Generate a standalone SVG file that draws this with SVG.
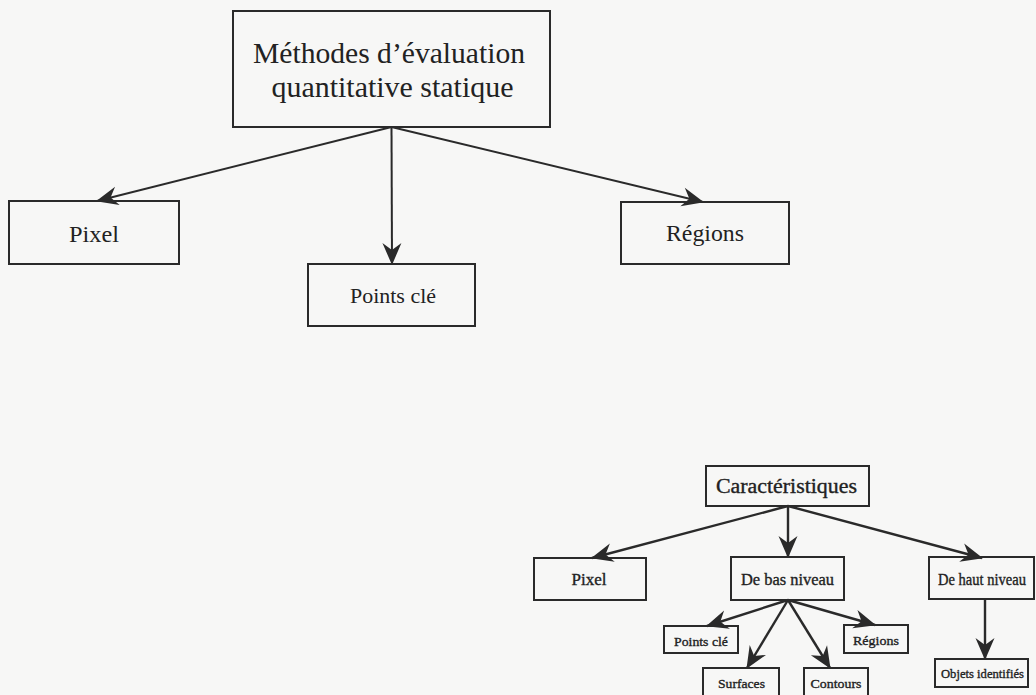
<svg xmlns="http://www.w3.org/2000/svg" width="1036" height="695" viewBox="0 0 1036 695">
<style>
.bg{fill:#f7f7f6}
.box{fill:none;stroke:#2a2a2a;stroke-width:2}
.t{font-family:"Liberation Serif","DejaVu Serif","Times New Roman",serif;fill:#222;text-anchor:middle}
.b{font-family:"Liberation Serif","DejaVu Serif","Times New Roman",serif;fill:#222;text-anchor:middle;stroke:#222;stroke-width:0.35}
.ln{fill:none;stroke:#2a2a2a;stroke-width:2}
.ln2{fill:none;stroke:#2a2a2a;stroke-width:2.4}
</style>
<defs>
<marker id="ah" markerUnits="userSpaceOnUse" markerWidth="30" markerHeight="24" refX="24" refY="12" orient="auto" overflow="visible">
<path d="M25,12 L3,2.5 L10,12 L3,21.5 Z" fill="#2a2a2a"/>
</marker>
</defs>
<rect class="bg" x="0" y="0" width="1036" height="695"/>
<g id="connectors">
<line class="ln" x1="391.5" y1="127" x2="97" y2="201" marker-end="url(#ah)"/>
<line class="ln" x1="391.5" y1="127" x2="392" y2="264" marker-end="url(#ah)"/>
<line class="ln" x1="391.5" y1="127" x2="703" y2="202" marker-end="url(#ah)"/>
<line class="ln2" x1="788" y1="506" x2="592" y2="558" marker-end="url(#ah)"/>
<line class="ln2" x1="788" y1="506" x2="788" y2="557" marker-end="url(#ah)"/>
<line class="ln2" x1="788" y1="506" x2="982" y2="558" marker-end="url(#ah)"/>
<line class="ln2" x1="788" y1="600" x2="707" y2="626" marker-end="url(#ah)"/>
<line class="ln2" x1="788" y1="600" x2="747" y2="668" marker-end="url(#ah)"/>
<line class="ln2" x1="788" y1="600" x2="830" y2="668" marker-end="url(#ah)"/>
<line class="ln2" x1="788" y1="600" x2="875" y2="625" marker-end="url(#ah)"/>
<line class="ln2" x1="985" y1="599" x2="985" y2="659" marker-end="url(#ah)"/>
</g>
<g id="n-methodes">
<rect class="box" x="233" y="11" width="317" height="116"/>
<text class="t" x="389" y="63" font-size="30" textLength="272" lengthAdjust="spacingAndGlyphs">Méthodes d’évaluation</text>
<text class="t" x="392.5" y="97" font-size="30" textLength="242" lengthAdjust="spacingAndGlyphs">quantitative statique</text>
</g>
<g id="n-pixel">
<rect class="box" x="9" y="201" width="170" height="63"/>
<text class="t" x="94" y="242" font-size="24" textLength="50" lengthAdjust="spacingAndGlyphs">Pixel</text>
</g>
<g id="n-pointscle">
<rect class="box" x="308" y="264" width="167" height="62"/>
<text class="t" x="393" y="303" font-size="22" textLength="86" lengthAdjust="spacingAndGlyphs">Points clé</text>
</g>
<g id="n-regions">
<rect class="box" x="621" y="202" width="168" height="62"/>
<text class="t" x="705" y="241" font-size="24" textLength="78" lengthAdjust="spacingAndGlyphs">Régions</text>
</g>
<g id="n-caract">
<rect class="box" x="706" y="466" width="163" height="40"/>
<text class="b" x="786.5" y="493" font-size="20" textLength="141" lengthAdjust="spacingAndGlyphs">Caractéristiques</text>
</g>
<g id="n-pixel2">
<rect class="box" x="534" y="558" width="112" height="42"/>
<text class="b" x="589" y="585" font-size="17" textLength="35" lengthAdjust="spacingAndGlyphs">Pixel</text>
</g>
<g id="n-bas">
<rect class="box" x="731" y="557" width="113" height="43"/>
<text class="b" x="787.5" y="585" font-size="17" textLength="93" lengthAdjust="spacingAndGlyphs">De bas niveau</text>
</g>
<g id="n-haut">
<rect class="box" x="929" y="557" width="105" height="42"/>
<text class="b" x="982" y="585" font-size="16.5" textLength="88" lengthAdjust="spacingAndGlyphs">De haut niveau</text>
</g>
<g id="n-pointscle2">
<rect class="box" x="664" y="626" width="74" height="27"/>
<text class="b" x="701" y="646" font-size="13" textLength="54" lengthAdjust="spacingAndGlyphs">Points clé</text>
</g>
<g id="n-regions2">
<rect class="box" x="844" y="625" width="64" height="28"/>
<text class="b" x="876" y="645" font-size="13.5" textLength="46" lengthAdjust="spacingAndGlyphs">Régions</text>
</g>
<g id="n-surfaces">
<rect class="box" x="703" y="668" width="76" height="40"/>
<text class="b" x="741.5" y="688" font-size="13.5" textLength="47" lengthAdjust="spacingAndGlyphs">Surfaces</text>
</g>
<g id="n-contours">
<rect class="box" x="804" y="668" width="64" height="40"/>
<text class="b" x="836" y="688" font-size="13.5" textLength="51" lengthAdjust="spacingAndGlyphs">Contours</text>
</g>
<g id="n-objets">
<rect class="box" x="935" y="659" width="93" height="28"/>
<text class="b" x="982.5" y="678" font-size="13.5" textLength="83" lengthAdjust="spacingAndGlyphs">Objets identifiés</text>
</g>
</svg>
